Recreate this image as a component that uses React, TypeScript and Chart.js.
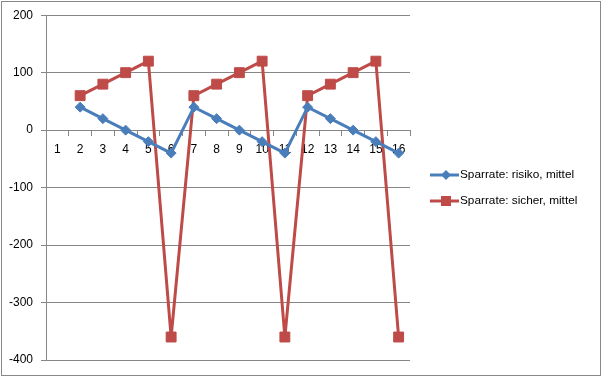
import React, { useEffect, useRef } from 'react';
import { Chart, registerables } from 'chart.js';

Chart.register(...registerables);

const categories = ['1', '2', '3', '4', '5', '6', '7', '8', '9', '10', '11', '12', '13', '14', '15', '16'];
const risiko = [null, 40, 20, 0, -20, -40, 40, 20, 0, -20, -40, 40, 20, 0, -20, -40];
const sicher = [null, 60, 80, 100, 120, -360, 60, 80, 100, 120, -360, 60, 80, 100, 120, -360];
const seriesNames = ['Sparrate: risiko, mittel', 'Sparrate: sicher, mittel'];
const yMin = -400;
const yMax = 200;
const yStep = 100;

const BLUE = '#4A7EBB';
const RED = '#BE4B48';
const GRID = '#868686';
const FONT = 'Liberation Sans';

const framePlugin = {
  id: 'frame',
  afterDraw(chart: any) {
    const ctx = chart.ctx;
    ctx.save();
    ctx.strokeStyle = '#888888';
    ctx.lineWidth = 1;
    ctx.strokeRect(1.5, 1.5, 599, 374);
    ctx.restore();
  },
};

const legendPlugin = {
  id: 'excelLegend',
  afterDraw(chart: any) {
    const ctx = chart.ctx;
    const items = [
      { name: seriesNames[0], color: BLUE, shape: 'diamond', y: 175 },
      { name: seriesNames[1], color: RED, shape: 'square', y: 201 },
    ];
    ctx.save();
    for (const it of items) {
      ctx.strokeStyle = it.color;
      ctx.lineWidth = 3;
      ctx.beginPath();
      ctx.moveTo(430, it.y);
      ctx.lineTo(459, it.y);
      ctx.stroke();
      ctx.fillStyle = it.color;
      ctx.beginPath();
      const cx = 446;
      if (it.shape === 'diamond') {
        ctx.moveTo(cx, it.y - 5);
        ctx.lineTo(cx + 5, it.y);
        ctx.lineTo(cx, it.y + 5);
        ctx.lineTo(cx - 5, it.y);
        ctx.closePath();
      } else {
        ctx.rect(cx - 5, it.y - 5, 10, 10);
      }
      ctx.fill();
      ctx.fillStyle = '#000';
      ctx.font = `11.8px "${FONT}"`;
      ctx.textBaseline = 'middle';
      ctx.textAlign = 'left';
      ctx.fillText(it.name, 460, it.y);
    }
    ctx.restore();
  },
};

export default function App() {
  const ref = useRef<HTMLCanvasElement | null>(null);
  useEffect(() => {
    document.body.style.margin = '0';
    const canvas = ref.current;
    if (!canvas) return;
    const chart = new Chart(canvas, {
      type: 'line',
      data: {
        labels: categories,
        datasets: [
          {
            label: seriesNames[0],
            data: risiko,
            borderColor: BLUE,
            backgroundColor: BLUE,
            borderWidth: 3,
            pointStyle: 'rectRot',
            pointRadius: 5,
            pointBorderWidth: 1,
            pointBackgroundColor: BLUE,
            pointBorderColor: BLUE,
            tension: 0,
          },
          {
            label: seriesNames[1],
            data: sicher,
            borderColor: RED,
            backgroundColor: RED,
            borderWidth: 3,
            pointStyle: 'rect',
            pointRadius: 7,
            pointBorderWidth: 1,
            pointBackgroundColor: RED,
            pointBorderColor: RED,
            tension: 0,
          },
        ],
      },
      options: {
        animation: false,
        responsive: false,
        devicePixelRatio: 1,
        layout: { padding: { left: 0, top: 15, right: 192, bottom: 17 } },
        plugins: {
          legend: { display: false },
          tooltip: { enabled: false },
        },
        scales: {
          x: {
            type: 'category',
            position: { y: 0 },
            offset: true,
            grid: {
              display: true,
              drawOnChartArea: false,
              drawTicks: true,
              tickLength: 5,
              offset: true,
              color: GRID,
            },
            border: { display: true, color: GRID, width: 1 },
            ticks: {
              color: '#000',
              font: { family: FONT, size: 12 },
              padding: 7,
              maxRotation: 0,
              autoSkip: false,
            },
          },
          y: {
            min: yMin,
            max: yMax,
            afterFit(scale: any) {
              scale.width = 46;
            },
            ticks: {
              stepSize: yStep,
              color: '#000',
              font: { family: FONT, size: 12 },
              padding: 8,
            },
            grid: {
              color: GRID,
              tickLength: 5,
              drawTicks: true,
            },
            border: { display: true, color: GRID, width: 1 },
          },
        },
      },
      plugins: [framePlugin, legendPlugin],
    });
    return () => chart.destroy();
  }, []);
  return <canvas ref={ref} width={602} height={377} style={{ display: 'block', width: 602, height: 377 }} />;
}
